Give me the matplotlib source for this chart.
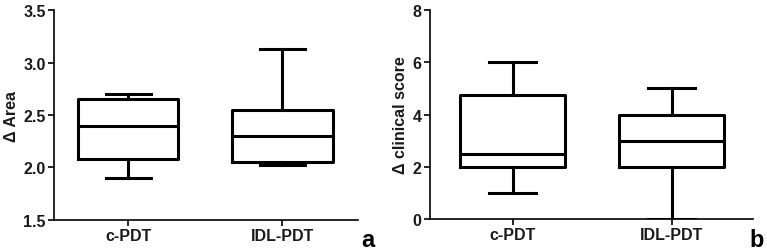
import matplotlib
matplotlib.use("Agg")
import matplotlib.pyplot as plt

plt.rcParams["font.family"] = ["Liberation Sans", "DejaVu Sans"]

# ── data (box-and-whisker summaries) ─────────────────────────────
groups = ["c-PDT", "IDL-PDT"]

# panel a: Δ Area
area_low = [1.90, 2.02]
area_q1 = [2.08, 2.055]
area_med = [2.40, 2.30]
area_q3 = [2.65, 2.55]
area_high = [2.70, 3.13]

# panel b: Δ clinical score
score_low = [1.0, 0.0]
score_q1 = [2.0, 2.0]
score_med = [2.5, 3.0]
score_q3 = [4.75, 4.0]
score_high = [6.0, 5.0]

TXT = "#1a1a1a"


def stats(low, q1, med, q3, high):
    return [dict(whislo=lo, q1=a, med=m, q3=b, whishi=hi, label=g)
            for g, lo, a, m, b, hi in zip(groups, low, q1, med, q3, high)]


def draw(ax, st, ylim, yticks, ylabel, xlim, width):
    lw = 2.2
    ax.bxp(st, positions=[1, 2], widths=width, showfliers=False,
           boxprops=dict(linewidth=lw, color="black"),
           medianprops=dict(linewidth=lw, color="black"),
           whiskerprops=dict(linewidth=lw, color="black"),
           capprops=dict(linewidth=lw, color="black"),
           capwidths=width * 0.45)
    ax.set_ylim(*ylim)
    ax.set_xlim(*xlim)
    ax.set_yticks(yticks)
    ax.spines[["top", "right"]].set_visible(False)
    for s in ("left", "bottom"):
        ax.spines[s].set_linewidth(1.2)
    ax.tick_params(width=1.2, length=4, pad=2, labelsize=11.5,
                   colors="black", labelcolor=TXT)
    for t in ax.get_xticklabels() + ax.get_yticklabels():
        t.set_fontweight("bold")
    ax.set_ylabel(ylabel, fontsize=11.5, fontweight="bold", color=TXT,
                  labelpad=3)


fig = plt.figure(figsize=(7.67, 2.53), dpi=100, facecolor="white")
ax1 = fig.add_axes([0.0704, 0.1265, 0.3964, 0.83])
ax2 = fig.add_axes([0.5606, 0.1304, 0.4211, 0.8261])

draw(ax1, stats(area_low, area_q1, area_med, area_q3, area_high),
     (1.5, 3.5), [1.5, 2.0, 2.5, 3.0, 3.5], "Δ Area", (0.52, 2.49), 0.65)
ax1.set_yticklabels([f"{v:.1f}" for v in [1.5, 2.0, 2.5, 3.0, 3.5]],
                    fontweight="bold")
draw(ax2, stats(score_low, score_q1, score_med, score_q3, score_high),
     (0, 8), [0, 2, 4, 6, 8], "Δ clinical score", (0.48, 2.51), 0.66)

# panel letters
fig.text(368 / 767, 1 - 247 / 253, "a", fontsize=17, fontweight="bold",
         ha="center", va="baseline", color="black")
fig.text(757 / 767, 1 - 247 / 253, "b", fontsize=17, fontweight="bold",
         ha="center", va="baseline", color="black")

fig.savefig("out.png", dpi=100, facecolor="white")
